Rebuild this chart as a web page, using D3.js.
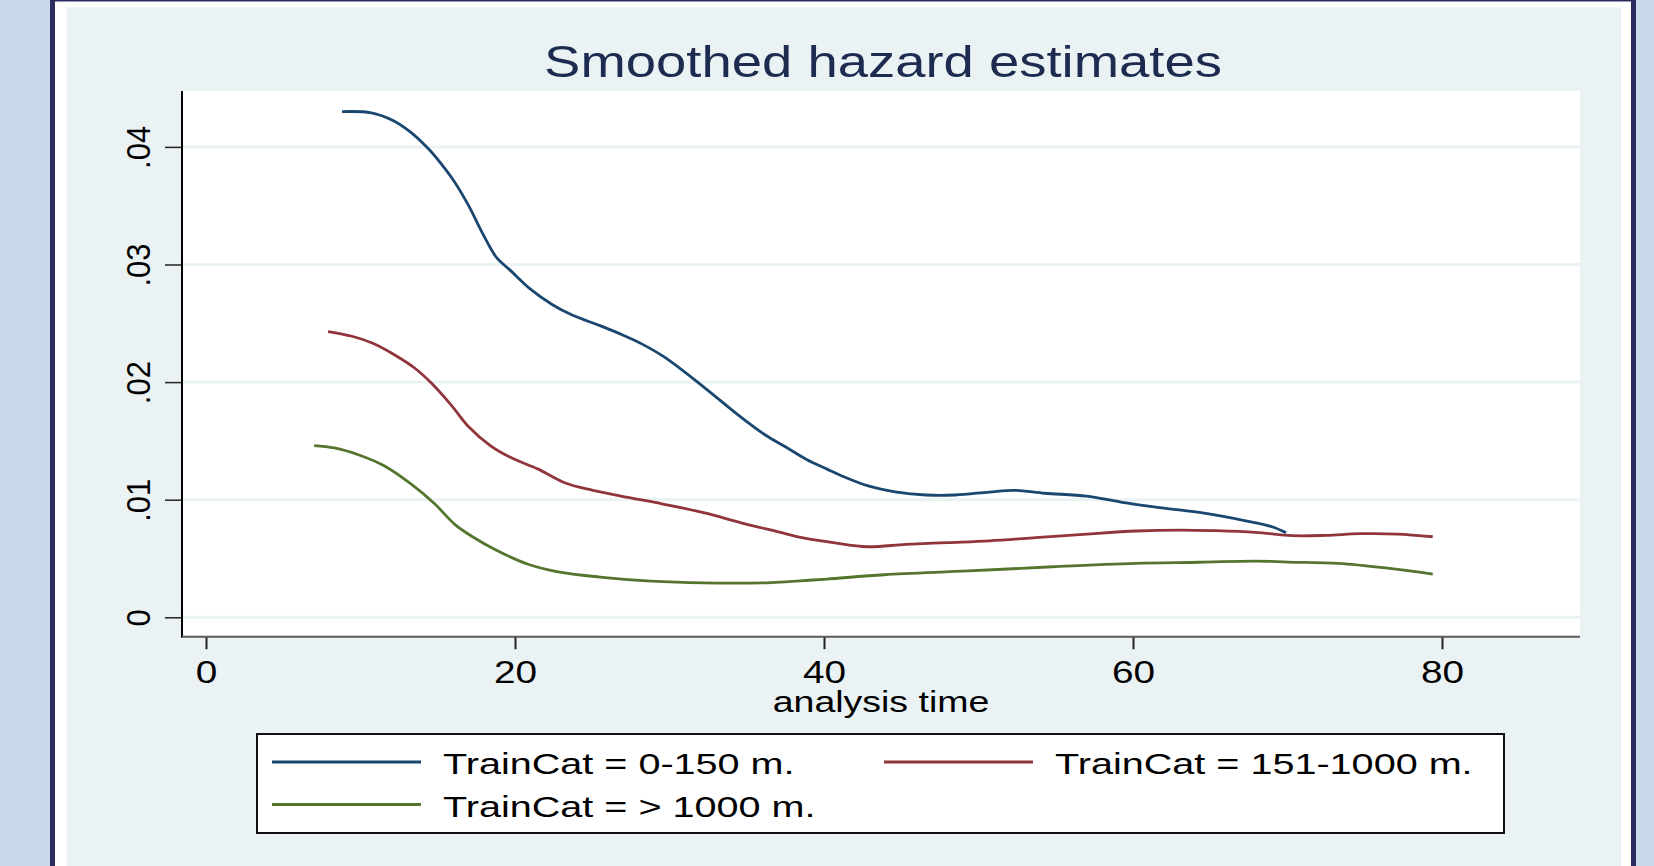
<!DOCTYPE html>
<html>
<head>
<meta charset="utf-8">
<script src="https://cdn.jsdelivr.net/npm/d3@7"></script>
<style>
  body { margin: 0; background: #c9d8ea; }
  text { font-family: "Liberation Sans", Arial, sans-serif; }
</style>
</head>
<body>
<svg id="chart" width="1654" height="866"></svg>
<script>
// values (hazard in absolute units)
const titleText = "Smoothed hazard estimates";
const xTicks = [0, 20, 40, 60, 80];
const yTicks = [0, 0.01, 0.02, 0.03, 0.04];
const yTickLabels = ["0", ".01", ".02", ".03", ".04"];
const seriesNames = ["TrainCat = 0-150 m.", "TrainCat = 151-1000 m.", "TrainCat = > 1000 m."];
const seriesColors = ["#1a476f", "#90353b", "#55752f"];

const nearTime = [8.8, 10.7, 12.1, 13.2, 14.35, 15.2, 16.1, 17.0, 17.9, 18.8, 19.7, 21.0, 22.4, 23.7, 25.5, 26.8, 28.2, 29.7, 32.2, 34.4, 36.2, 37.5, 38.9, 40.2, 41.2, 42.8, 44.7, 46.6, 48.5, 50.7, 52.3, 54.3, 57.0, 59.2, 61.9, 64.6, 67.3, 69.0, 69.9];
const nearHaz = [0.0430, 0.0429, 0.04225, 0.0413, 0.0399, 0.0386, 0.0370, 0.0350, 0.03265, 0.0306, 0.0295, 0.0279, 0.0266, 0.0257, 0.0248, 0.0241, 0.02325, 0.0221, 0.0196, 0.01725, 0.0155, 0.0145, 0.0134, 0.0126, 0.0120, 0.0112, 0.01065, 0.0104, 0.0104, 0.01065, 0.0108, 0.01055, 0.0103, 0.0098, 0.0093, 0.00885, 0.0082, 0.0077, 0.0072];

const midTime = [7.9, 9.45, 10.8, 12.35, 13.5, 14.6, 15.9, 17.0, 18.4, 19.7, 21.5, 23.3, 25.05, 27.3, 29.5, 32.2, 34.9, 37.1, 38.5, 40.6, 42.8, 45.3, 48.0, 50.7, 53.7, 57.0, 60.2, 63.0, 65.2, 67.9, 70.3, 72.5, 74.7, 77.1, 79.4];
const midHaz = [0.0243, 0.0239, 0.0233, 0.0222, 0.0212, 0.0199, 0.0180, 0.0162, 0.0146, 0.0136, 0.0126, 0.0114, 0.0108, 0.0102, 0.00965, 0.0089, 0.00795, 0.00725, 0.0068, 0.00635, 0.0060, 0.0062, 0.00635, 0.0065, 0.00677, 0.00708, 0.00734, 0.00742, 0.00737, 0.00723, 0.00694, 0.00697, 0.00711, 0.00708, 0.00685];

const farTime = [7.0, 8.3, 9.9, 11.5, 13.2, 14.8, 16.1, 17.25, 18.8, 20.8, 22.8, 25.5, 28.8, 32.2, 36.6, 38.45, 40.2, 43.9, 49.35, 54.8, 60.2, 64.3, 67.9, 70.05, 73.3, 76.6, 79.4];
const farHaz = [0.0146, 0.0144, 0.0138, 0.0129, 0.0114, 0.00965, 0.0079, 0.00685, 0.0057, 0.00453, 0.00386, 0.00342, 0.00307, 0.00292, 0.00295, 0.0031, 0.00325, 0.00362, 0.00394, 0.0043, 0.00459, 0.00468, 0.00478, 0.0047, 0.00459, 0.00416, 0.00368];

const seriesTimes = [nearTime, midTime, farTime];
const seriesHaz = [nearHaz, midHaz, farHaz];

const svg = d3.select("#chart");
const sx = 1.25; // text looks stretched sideways in the original

// outer frame
svg.append("rect").attr("x", 0).attr("y", 0).attr("width", 1654).attr("height", 866).attr("fill", "#c9d8ea");
svg.append("rect").attr("x", 50).attr("y", 0).attr("width", 1586).attr("height", 866).attr("fill", "#2b2c5f");
svg.append("rect").attr("x", 55).attr("y", 1.5).attr("width", 1576).attr("height", 866).attr("fill", "#ffffff");
svg.append("rect").attr("x", 66.7).attr("y", 7.3).attr("width", 1554.3).attr("height", 866).attr("fill", "#eaf2f3");

// plot region
const plotL = 182, plotR = 1580, plotT = 91, plotB = 636.7;
svg.append("rect").attr("x", plotL).attr("y", plotT).attr("width", plotR - plotL).attr("height", plotB - plotT).attr("fill", "#ffffff");

const x = d3.scaleLinear().domain([0, 80]).range([206, 1442]);
const y = d3.scaleLinear().domain([0, 0.04]).range([617.3, 146.9]);

// grid lines
svg.append("g").selectAll("line")
    .data(yTicks)
    .enter().append("line")
    .attr("x1", plotL).attr("x2", plotR)
    .attr("y1", d => y(d)).attr("y2", d => y(d))
    .attr("stroke", "#eaf2f3").attr("stroke-width", 3);

// title
svg.append("text")
    .attr("transform", `translate(883,77) scale(1.21,1)`)
    .attr("text-anchor", "middle")
    .attr("fill", "#1c2b4f")
    .style("font-size", "45px")
    .text(titleText);

// lines
const line = d3.line()
    .x(d => x(d[0]))
    .y(d => y(d[1]))
    .curve(d3.curveCatmullRom.alpha(0.5));

seriesTimes.forEach((times, i) => {
    const pts = times.map((t, k) => [t, seriesHaz[i][k]]);
    svg.append("path")
        .datum(pts)
        .attr("d", line)
        .attr("fill", "none")
        .attr("stroke", seriesColors[i])
        .attr("stroke-width", 2.8);
});

// y axis
const yAxis = svg.append("g").attr("transform", `translate(${plotL},0)`)
    .call(d3.axisLeft(y).tickValues(yTicks).tickSize(17).tickFormat((d, i) => yTickLabels[i]));
yAxis.select(".domain").remove();
yAxis.selectAll(".tick line").attr("stroke", "#222").attr("stroke-width", 1.5);
yAxis.selectAll(".tick text").remove();
yAxis.selectAll(".tick").append("text")
    .attr("transform", "translate(-32,0) scale(1.1,1) rotate(-90)")
    .attr("text-anchor", "middle")
    .attr("fill", "#000")
    .style("font-size", "31px")
    .text((d, i) => yTickLabels[i]);
svg.append("line")
    .attr("x1", plotL).attr("x2", plotL).attr("y1", plotT).attr("y2", plotB + 1)
    .attr("stroke", "#000").attr("stroke-width", 2);

// x axis
const xAxis = svg.append("g").attr("transform", `translate(0,${plotB})`)
    .call(d3.axisBottom(x).tickValues(xTicks).tickSize(12.5));
xAxis.select(".domain").remove();
xAxis.selectAll(".tick line").attr("stroke", "#222").attr("stroke-width", 2);
xAxis.selectAll(".tick text").remove();
xAxis.selectAll(".tick").append("text")
    .attr("transform", `translate(0,46) scale(${sx},1)`)
    .attr("text-anchor", "middle")
    .attr("fill", "#000")
    .style("font-size", "31px")
    .text(d => d);
svg.append("line")
    .attr("x1", plotL).attr("x2", plotR).attr("y1", plotB).attr("y2", plotB)
    .attr("stroke", "#5a5a5a").attr("stroke-width", 2);

svg.append("text")
    .attr("transform", `translate(881,712) scale(${sx},1)`)
    .attr("text-anchor", "middle")
    .attr("fill", "#000")
    .style("font-size", "30px")
    .text("analysis time");

// legend
const legend = svg.append("g");
legend.append("rect")
    .attr("x", 257).attr("y", 734).attr("width", 1247).attr("height", 99)
    .attr("fill", "#ffffff").attr("stroke", "#111").attr("stroke-width", 2);

const legendPos = [[272, 762], [884, 762], [272, 804.5]];
seriesNames.forEach((name, i) => {
    const [lx, ly] = legendPos[i];
    legend.append("line")
        .attr("x1", lx).attr("x2", lx + 149)
        .attr("y1", ly).attr("y2", ly)
        .attr("stroke", seriesColors[i]).attr("stroke-width", 2.8);
    legend.append("text")
        .attr("transform", `translate(${lx + 171},${ly + 12}) scale(1.32,1)`)
        .attr("fill", "#000")
        .style("font-size", "30px")
        .text(name);
});
</script>
</body>
</html>
